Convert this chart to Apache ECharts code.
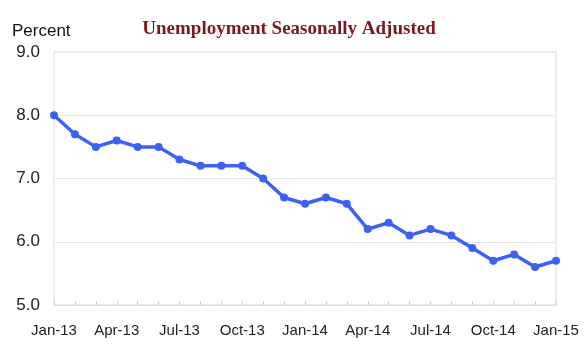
<!DOCTYPE html>
<html><head><meta charset="utf-8">
<script src="https://cdn.jsdelivr.net/npm/echarts@6/dist/echarts.min.js"></script>
<style>html,body{margin:0;padding:0;background:#fff}#c{width:586px;height:351px}</style>
</head><body><div id="c"></div>
<script>
const months = ['Jan-13','Feb-13','Mar-13','Apr-13','May-13','Jun-13','Jul-13','Aug-13','Sep-13','Oct-13','Nov-13','Dec-13',
  'Jan-14','Feb-14','Mar-14','Apr-14','May-14','Jun-14','Jul-14','Aug-14','Sep-14','Oct-14','Nov-14','Dec-14','Jan-15'];
const rate = [8.0,7.7,7.5,7.6,7.5,7.5,7.3,7.2,7.2,7.2,7.0,6.7,6.6,6.7,6.6,6.2,6.3,6.1,6.2,6.1,5.9,5.7,5.8,5.6,5.7];
const yTicks = [5,6,7,8,9];
const titleText = 'Unemployment Seasonally Adjusted';
const yName = 'Percent';

const chart = echarts.init(document.getElementById('c'), null, {renderer:'canvas'});
chart.setOption({
  animation:false,
  title:{text:titleText, left:284, textAlign:'center', top:15,
    textStyle:{fontFamily:'"Liberation Serif","Times New Roman",serif', fontWeight:'bold', fontSize:19, color:'#7a1a1f'}},
  grid:{left:54, right:30, top:52, bottom:46, show:true, borderColor:'#dcdcdc', borderWidth:1},
  xAxis:{type:'category', data:months, boundaryGap:false,
    axisLine:{lineStyle:{color:'#dcdcdc'}},
    axisTick:{show:true, inside:true, length:4, interval:0, lineStyle:{color:'#cfcfcf'}},
    axisLabel:{interval:2, margin:18, fontFamily:'"Liberation Sans",Arial,sans-serif', fontSize:15, color:'#222'},
    splitLine:{show:false}},
  yAxis:{type:'value', min:yTicks[0], max:yTicks[yTicks.length-1], interval:1,
    name:yName, nameLocation:'end', nameGap:12,
    nameTextStyle:{fontFamily:'"Liberation Sans",Arial,sans-serif', fontSize:17, color:'#111', align:'left', padding:[0,0,0,-42]},
    axisLine:{show:false}, axisTick:{show:false},
    axisLabel:{margin:14, formatter:v=>v.toFixed(1), fontFamily:'"Liberation Sans",Arial,sans-serif', fontSize:17, color:'#222'},
    splitLine:{lineStyle:{color:'#e4e4e4', width:1}}},
  series:[{type:'line', data:rate, symbol:'circle', symbolSize:8,
    lineStyle:{color:'#3a62f6', width:3.5}, itemStyle:{color:'#3a62f6'}}]
});
</script></body></html>
